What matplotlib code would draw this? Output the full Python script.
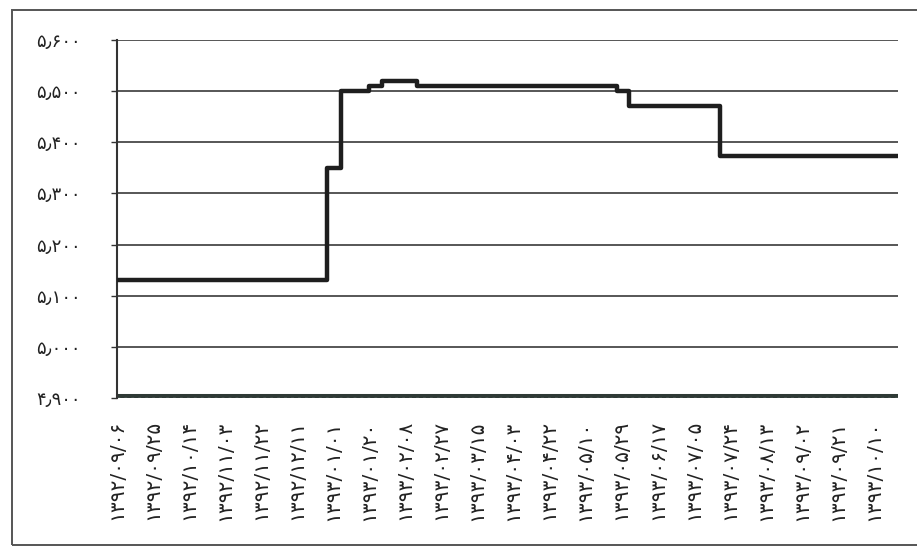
import matplotlib
matplotlib.use("Agg")
import matplotlib.pyplot as plt
from matplotlib.patches import Rectangle

# ---- data ----
step_days = [0, 111, 118, 133, 140, 158, 264, 270, 318, 413]
step_values = [5.13, 5.35, 5.50, 5.51, 5.52, 5.51, 5.50, 5.47, 5.373, 5.373]

tick_days = [0, 19, 38, 57, 76, 95, 114, 133, 152, 171, 190, 209, 228, 247,
             266, 285, 304, 323, 342, 361, 380, 399]
tick_labels = ["۱۳۹۲/۰۹/۰۶", "۱۳۹۲/۰۹/۲۵", "۱۳۹۲/۱۰/۱۴", "۱۳۹۲/۱۱/۰۳",
               "۱۳۹۲/۱۱/۲۲", "۱۳۹۲/۱۲/۱۱", "۱۳۹۳/۰۱/۰۱", "۱۳۹۳/۰۱/۲۰",
               "۱۳۹۳/۰۲/۰۸", "۱۳۹۳/۰۲/۲۷", "۱۳۹۳/۰۳/۱۵", "۱۳۹۳/۰۴/۰۳",
               "۱۳۹۳/۰۴/۲۲", "۱۳۹۳/۰۵/۱۰", "۱۳۹۳/۰۵/۲۹", "۱۳۹۳/۰۶/۱۷",
               "۱۳۹۳/۰۷/۰۵", "۱۳۹۳/۰۷/۲۴", "۱۳۹۳/۰۸/۱۳", "۱۳۹۳/۰۹/۰۲",
               "۱۳۹۳/۰۹/۲۱", "۱۳۹۳/۱۰/۱۰"]

y_ticks = [4.9, 5.0, 5.1, 5.2, 5.3, 5.4, 5.5, 5.6]
y_labels = ["۴٫۹۰۰", "۵٫۰۰۰", "۵٫۱۰۰", "۵٫۲۰۰", "۵٫۳۰۰", "۵٫۴۰۰", "۵٫۵۰۰", "۵٫۶۰۰"]

plt.rcParams['font.family'] = ['DejaVu Sans']

W, H = 917, 553
fig = plt.figure(figsize=(W / 100, H / 100), dpi=100)
fig.patch.set_facecolor('white')

# scanned frame
fig.patches.append(Rectangle((12 / W, 1 - 545 / H), (W + 5 - 12) / W, (545 - 10) / H,
                             transform=fig.transFigure, fill=False,
                             edgecolor='#555555', linewidth=1.4))

ax = fig.add_axes([117 / W, 1 - 398 / H, (898 - 117) / W, (398 - 40) / H])
ax.set_xlim(0, 412)
ax.set_ylim(4.9, 5.6)

for y in y_ticks[1:]:
    ax.axhline(y, color='#3a3a3a', linewidth=1.2, zorder=1)

ax.step(step_days, step_values, where='post', color='#1e1e1e', linewidth=3.2,
        zorder=3, solid_capstyle='butt')

# thick baseline band
ax.axhline(4.9, color='#2f3a36', linewidth=6.5, zorder=2)
ax.axhline(4.9, color='#8a9a94', linewidth=1.0, linestyle=(0, (2, 3)), zorder=2)

for s in ['top', 'right', 'bottom']:
    ax.spines[s].set_visible(False)
ax.spines['left'].set_color('#333333')
ax.spines['left'].set_linewidth(1.5)

ax.set_yticks(y_ticks)
ax.set_yticklabels(y_labels, fontsize=13, color='#222222')
ax.tick_params(axis='y', length=4, width=1, color='#333333', pad=22)

ax.set_xticks(tick_days)
ax.set_xticklabels(tick_labels, rotation=90, fontsize=14.5, color='#222222')
ax.tick_params(axis='x', length=0, pad=16)

fig.savefig('out.png', dpi=100, facecolor='white')
